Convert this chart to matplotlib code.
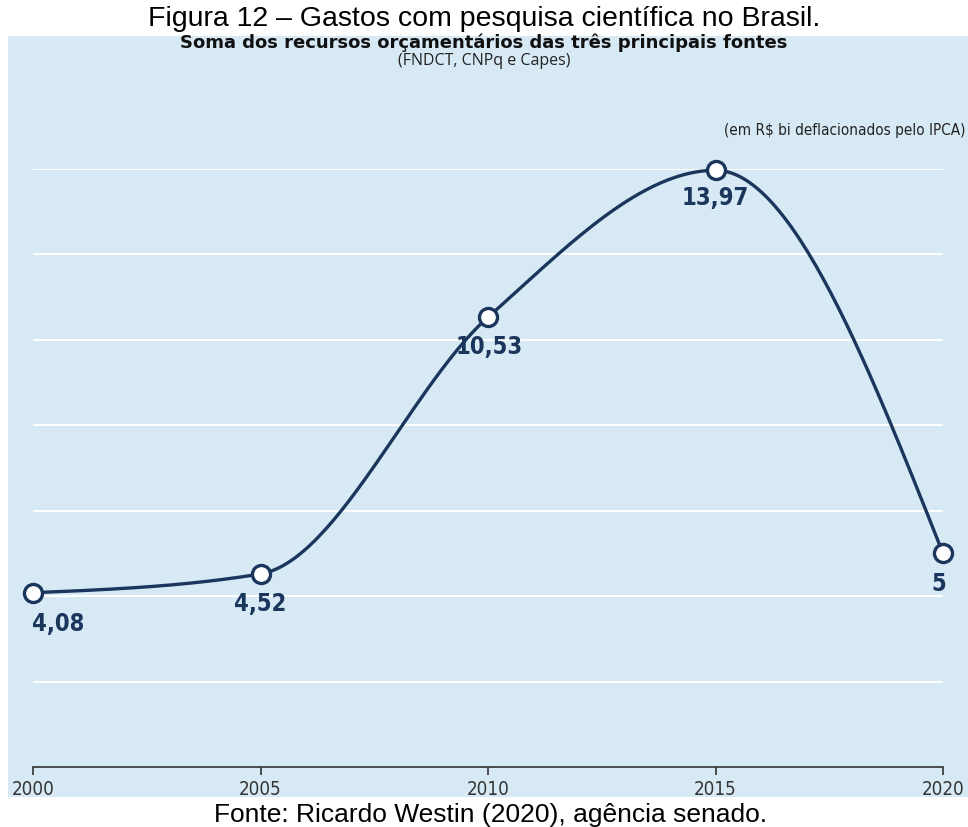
import numpy as np
import matplotlib.pyplot as plt
from matplotlib.patches import Rectangle

# data
anos = [2000, 2005, 2010, 2015, 2020]
valores = [4.08, 4.52, 10.53, 13.97, 5.0]
rotulos = ["4,08", "4,52", "10,53", "13,97", "5"]
y_grid = [2, 4, 6, 8, 10, 12, 14]

NAVY = "#1b365d"
BG = "#d7e9f4"


def monotone_x(x, y, n=60):
    """Monotone cubic curve through the points (same idea as d3.curveMonotoneX)."""
    x = np.asarray(x, float)
    y = np.asarray(y, float)
    h = np.diff(x)
    s = np.diff(y) / h
    t = np.zeros_like(y)
    for i in range(1, len(y) - 1):
        p = (s[i - 1] * h[i] + s[i] * h[i - 1]) / (h[i - 1] + h[i])
        t[i] = (np.sign(s[i - 1]) + np.sign(s[i])) * min(abs(s[i - 1]), abs(s[i]), 0.5 * abs(p))
    t[0] = (3 * s[0] - t[1]) / 2
    t[-1] = (3 * s[-1] - t[-2]) / 2
    xs, ys = [], []
    for i in range(len(h)):
        u = np.linspace(0, 1, n)
        h00 = 2 * u**3 - 3 * u**2 + 1
        h10 = u**3 - 2 * u**2 + u
        h01 = -2 * u**3 + 3 * u**2
        h11 = u**3 - u**2
        xs.append(x[i] + u * h[i])
        ys.append(h00 * y[i] + h10 * h[i] * t[i] + h01 * y[i + 1] + h11 * h[i] * t[i + 1])
    return np.concatenate(xs), np.concatenate(ys)


fig = plt.figure(figsize=(9.68, 8.28), dpi=100)
fig.patch.set_facecolor("white")

# light blue panel behind the chart
fig.patches.append(Rectangle((8 / 968, 1 - 798 / 828), 960 / 968, (798 - 37) / 828,
                             transform=fig.transFigure, facecolor=BG, edgecolor="none",
                             zorder=-5))

ax = fig.add_axes([33 / 968, 60 / 828, 910 / 968, 598 / 828])
ax.set_zorder(2)
ax.set_facecolor("none")
ax.set_xlim(2000, 2020)
ax.set_ylim(0, 14)

for g in y_grid:
    ax.axhline(g, color="white", lw=1.4, zorder=1)

cx, cy = monotone_x(anos, valores)
ax.plot(cx, cy, color=NAVY, lw=2.4, zorder=3, clip_on=False, solid_capstyle="round")
ax.plot(anos, valores, "o", ms=13, mfc="white", mec=NAVY, mew=2.4, zorder=4, clip_on=False)

label_font = dict(family="DejaVu Sans", fontstretch="condensed", fontweight="bold",
                  fontsize=17, color=NAVY)
offsets = [(18, -22), (0, -21), (1, -21), (0, -19), (-3, -21)]
for x, y, r, (dx, dy) in zip(anos, valores, rotulos, offsets):
    ax.annotate(r, (x, y), xytext=(dx, dy), textcoords="offset points",
                ha="center", va="center", zorder=5, **label_font)

for side in ["top", "left", "right"]:
    ax.spines[side].set_visible(False)
ax.spines["bottom"].set_color("#333333")
ax.spines["bottom"].set_linewidth(1.2)
ax.set_yticks([])
ax.set_xticks(anos)
ax.set_xticklabels([str(a) for a in anos], fontsize=13.5, color="#333333",
                   fontstretch="condensed")
ax.tick_params(axis="x", length=6, width=1.2, color="#333333", pad=3)

fig.text(0.5, 1 - 19 / 828, "Figura 12 – Gastos com pesquisa científica no Brasil.",
         ha="center", va="center", fontsize=20.5, family="Liberation Sans", color="black")
fig.text(0.5, 1 - 43 / 828, "Soma dos recursos orçamentários das três principais fontes",
         ha="center", va="center", fontsize=13, fontweight="bold",
         family="DejaVu Sans", color="#111111")
fig.text(0.5, 1 - 61 / 828, "(FNDCT, CNPq e Capes)", ha="center", va="center",
         fontsize=11.5, family="Open Sans", color="#222222")
fig.text(965 / 968, 1 - 130 / 828, "(em R$ bi deflacionados pelo IPCA)", ha="right",
         va="center", fontsize=11, fontstretch="condensed", family="DejaVu Sans",
         color="#222222")
fig.text(490 / 968, 1 - 815 / 828, "Fonte: Ricardo Westin (2020), agência senado.",
         ha="center", va="center", fontsize=19, family="Liberation Sans", color="black")

fig.savefig("out.png", dpi=100, facecolor="white")
